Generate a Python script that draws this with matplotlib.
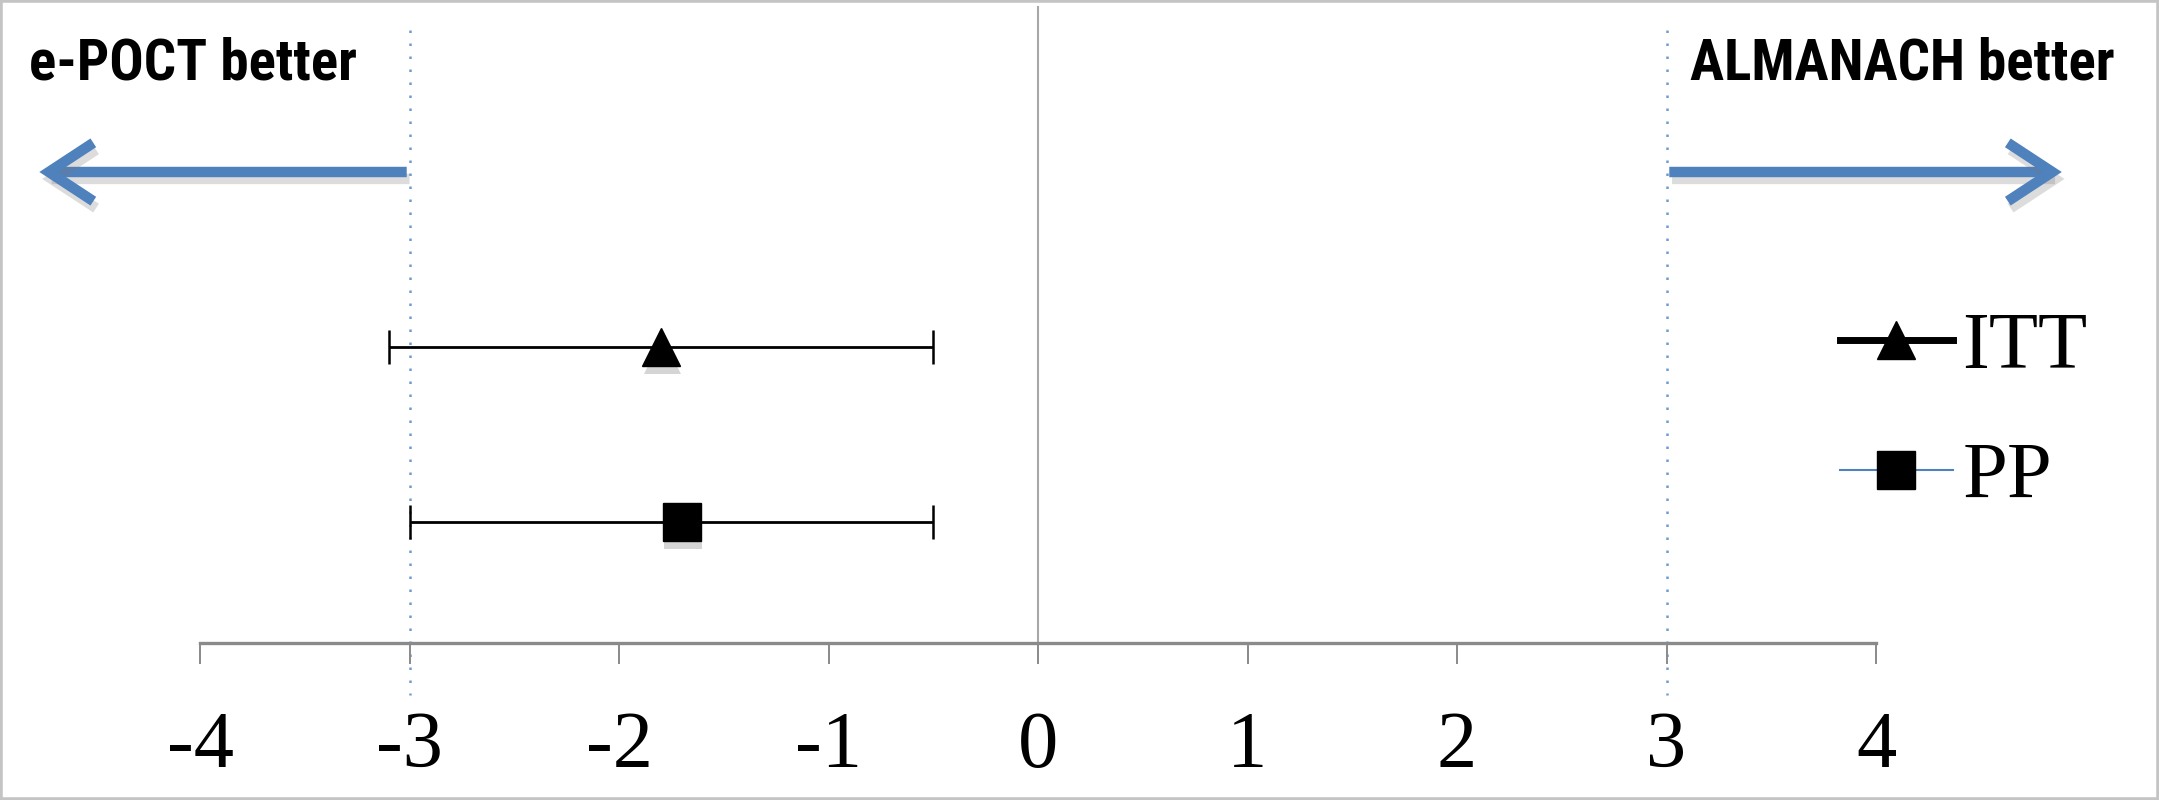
import matplotlib
matplotlib.use('Agg')
import matplotlib.pyplot as plt
import matplotlib.patheffects as pe
from matplotlib.lines import Line2D
from matplotlib.patches import FancyArrowPatch, ArrowStyle, Rectangle

# differences with confidence intervals
analyses = ['ITT', 'PP']
estimate = [-1.8, -1.7]
ci_low = [-3.1, -3.0]
ci_high = [-0.5, -0.5]
markers = ['^', 's']
margin = 3
ticks = [-4, -3, -2, -1, 0, 1, 2, 3, 4]

W, H = 2159, 800
unit = 209.5      # pixels per unit on x
x0_pix = 1038     # pixel position of 0
row_pix = [347, 522]

fig = plt.figure(figsize=(W / 100, H / 100), dpi=100)
ax = fig.add_axes([0, 0, 1, 1])
ax.set_xlim(-x0_pix / unit, (W - x0_pix) / unit)
step = row_pix[1] - row_pix[0]
ax.set_ylim(2 + (H - row_pix[1]) / step, 1 - row_pix[0] / step)
ax.patch.set_alpha(0)


def fy(p):
    # pixel row -> axes fraction
    return 1 - p / H


xt = ax.get_xaxis_transform()

# axis
for s in ['top', 'left', 'right']:
    ax.spines[s].set_visible(False)
ax.spines['bottom'].set_position(('axes', fy(643)))
ax.spines['bottom'].set_bounds(ticks[0], ticks[-1])
ax.spines['bottom'].set_color('#8a8a8a')
ax.spines['bottom'].set_linewidth(2.4)
ax.set_yticks([])
ax.set_xticks(ticks)
ax.set_xticklabels([str(t) for t in ticks], fontfamily='Liberation Serif', fontsize=58)
ax.tick_params(axis='x', direction='out', length=15, width=1.4, color='#8a8a8a', pad=34)

# zero line and margins
ax.plot([0, 0], [fy(7), fy(643)], transform=xt, color='#a8a8a8', lw=1.5, zorder=1)
for m in [-margin, margin]:
    ax.plot([m, m], [fy(30), fy(695)], transform=xt, color='#6f9bd1', lw=1.8,
            dashes=(1, 4.2), zorder=1)

# arrows
arr_y = fy(172)
style = ArrowStyle('->', head_length=32, head_width=21)
shadow = [pe.SimpleLineShadow(offset=(2, -5), shadow_color='#777777', alpha=0.25), pe.Normal()]
for start, end in [(-margin, -4.78), (margin, 4.9)]:
    a = FancyArrowPatch((start, arr_y), (end, arr_y), transform=xt, arrowstyle=style,
                        mutation_scale=1, color='#4f81bd', lw=7.5, capstyle='butt',
                        joinstyle='miter', path_effects=shadow)
    ax.add_patch(a)

# header labels
head_font = ['Roboto Condensed', 'Liberation Sans Narrow', 'Arial Narrow', 'Liberation Sans']
ax.text(29 / W, fy(80), 'e-POCT better', transform=ax.transAxes, ha='left', va='baseline',
        fontsize=41, fontweight='bold', family=head_font)
ax.text(2115 / W, fy(80), 'ALMANACH better', transform=ax.transAxes, ha='right', va='baseline',
        fontsize=41, fontweight='bold', family=head_font)

# error bars
rows = list(range(1, len(analyses) + 1))
xerr = [[e - l for e, l in zip(estimate, ci_low)], [h - e for e, h in zip(estimate, ci_high)]]
ax.errorbar(estimate, rows, xerr=xerr, fmt='none', ecolor='black', elinewidth=2,
            capsize=12, capthick=1.8, zorder=3)
mshadow = [pe.SimplePatchShadow(offset=(1, -6), shadow_rgbFace='#777777', alpha=0.3), pe.Normal()]
for e, r, mk in zip(estimate, rows, markers):
    ax.plot([e], [r], marker=mk, ms=27, color='black', ls='none', zorder=4,
            path_effects=mshadow)

# legend
handles = [
    Line2D([], [], color='black', lw=5, marker='^', ms=27, mfc='black'),
    Line2D([], [], color='#4f81bd', lw=1.5, marker='s', ms=27, mfc='black', mec='black'),
]
ax.legend(handles, analyses, loc='upper left', bbox_to_anchor=(1840 / W, fy(312)),
          bbox_transform=fig.transFigure, frameon=False, borderpad=0, borderaxespad=0,
          handlelength=1.4, handletextpad=0.12, labelspacing=0.70,
          prop={'family': 'Liberation Serif', 'size': 58})

# frame around the picture
fig.patches.append(Rectangle((0, 0), 1, 1, transform=fig.transFigure, fill=False,
                             edgecolor='#c4c4c4', lw=4))

fig.savefig('out.png', dpi=100)
